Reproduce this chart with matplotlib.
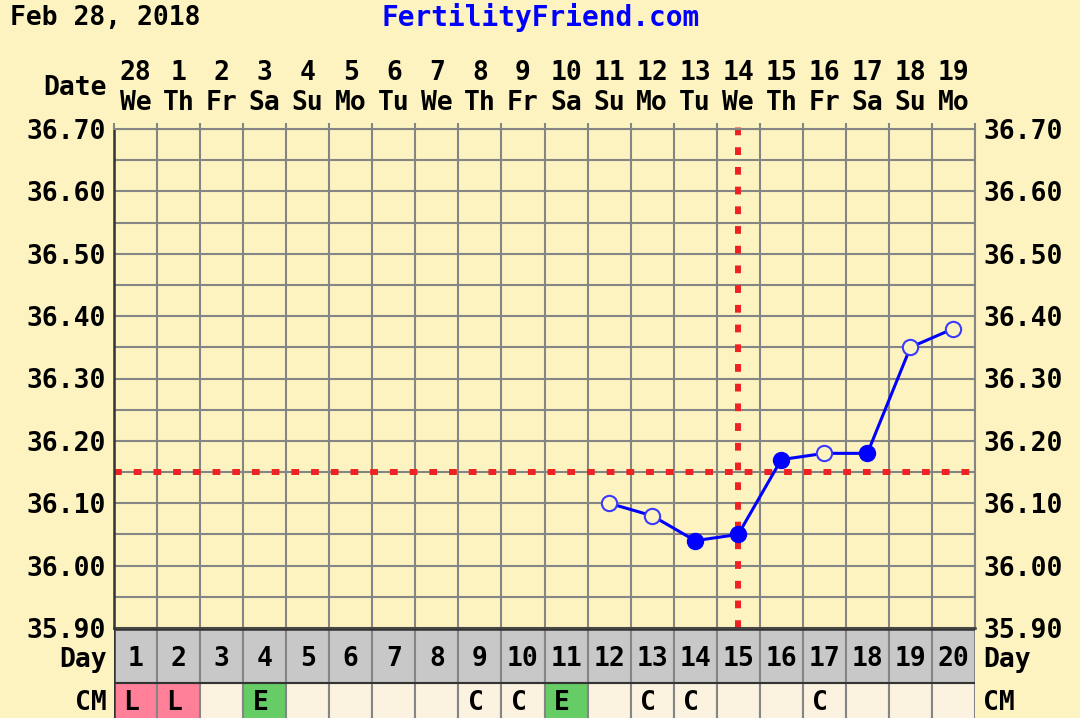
import matplotlib.pyplot as plt
import numpy as np
from matplotlib import transforms
from matplotlib.ticker import FormatStrFormatter

# chart data
cycle_days = list(range(1, 21))
dates = [28, 1, 2, 3, 4, 5, 6, 7, 8, 9, 10, 11, 12, 13, 14, 15, 16, 17, 18, 19]
weekdays = ["We", "Th", "Fr", "Sa", "Su", "Mo", "Tu", "We", "Th", "Fr",
            "Sa", "Su", "Mo", "Tu", "We", "Th", "Fr", "Sa", "Su", "Mo"]
temp_days = [12, 13, 14, 15, 16, 17, 18, 19, 20]
temps = [36.10, 36.08, 36.04, 36.05, 36.17, 36.18, 36.18, 36.35, 36.38]
temp_filled = [False, False, True, True, True, False, True, False, False]
cm_marks = ["L", "L", "", "E", "", "", "", "", "C", "C",
            "E", "", "C", "C", "", "", "C", "", "", ""]
coverline = 36.15
ovulation_day = 15
y_min, y_max = 35.90, 36.70

BG = "#fdf3c1"
GRID = "#858585"
DARK = "#333333"
cm_colors = {"L": "#ff8098", "E": "#66cc66", "C": "#fbf3df", "": "#fbf3df"}

plt.rcParams["font.family"] = "DejaVu Sans Mono"
plt.rcParams["font.weight"] = "bold"
FS = 19

W, H = 1080, 718
fig = plt.figure(figsize=(W / 100, H / 100), dpi=100, facecolor=BG)


def px(x0, y0, x1, y1):
    return [x0 / W, 1 - y1 / H, (x1 - x0) / W, (y1 - y0) / H]


ax = fig.add_axes(px(114, 129, 975, 628))
ax.set_facecolor(BG)
ax.set_xlim(0.5, 20.5)
ax.set_ylim(y_min, y_max)

bounds = np.arange(0.5, 21, 1)
ax.set_xticks(bounds)
ax.set_xticklabels([])
ax.tick_params(axis="x", top=True, bottom=False, length=4, width=1.5,
               color=GRID, direction="out")
ax.set_yticks(np.round(np.arange(y_min, y_max + 0.001, 0.1), 2))
ax.set_yticks(np.round(np.arange(y_min, y_max + 0.001, 0.05), 2), minor=True)
ax.yaxis.set_major_formatter(FormatStrFormatter("%.2f"))
ax.tick_params(axis="y", which="both", length=0, labelleft=True,
               labelright=True, labelsize=FS, pad=6)
ax.grid(which="both", color=GRID, lw=1.5)
ax.set_axisbelow(True)
for side in ("top", "right"):
    ax.spines[side].set_color(GRID)
    ax.spines[side].set_linewidth(1.5)
for side in ("left", "bottom"):
    ax.spines[side].set_color(DARK)
    ax.spines[side].set_linewidth(1.8)

# coverline and ovulation line
ax.axhline(coverline, color="#ee2222", lw=4.3, dashes=(1.3, 2.0))
ax.axvline(ovulation_day, ymin=0, ymax=1.012, color="#ee2222", lw=4.3,
           dashes=(1.3, 2.0), clip_on=False)

# temperatures
ax.plot(temp_days, temps, color="#0000ff", lw=2.2, zorder=4)
fd = [d for d, f in zip(temp_days, temp_filled) if f]
ft = [t for t, f in zip(temps, temp_filled) if f]
od = [d for d, f in zip(temp_days, temp_filled) if not f]
ot = [t for t, f in zip(temps, temp_filled) if not f]
ax.plot(fd, ft, "o", color="#0000ff", ms=11.5, zorder=5)
ax.plot(od, ot, "o", mfc=BG, mec="#3a3aff", mew=1.5, ms=11, zorder=5)

# header
fig.text(10 / W, 1 - 18 / H, "Feb 28, 2018", fontsize=FS, va="center")
fig.text(541 / W, 1 - 18 / H, "FertilityFriend.com", fontsize=FS + 1,
         va="center", ha="center", color="#0000ff")
fig.text(107 / W, 1 - 88 / H, "Date", fontsize=FS, va="center", ha="right")
tr = transforms.blended_transform_factory(ax.transData, fig.transFigure)
for d, dt, wd in zip(cycle_days, dates, weekdays):
    ax.text(d, 1 - 73 / H, str(dt), transform=tr, fontsize=FS,
            ha="center", va="center")
    ax.text(d, 1 - 103 / H, wd, transform=tr, fontsize=FS,
            ha="center", va="center")

# day / CM rows
bx = fig.add_axes(px(114, 628, 975, 718))
bx.set_xlim(0.5, 20.5)
bx.set_ylim(90, 0)
bx.axis("off")
bx.bar(cycle_days, 54, bottom=1, width=1, color="#c8c8c8",
       edgecolor=GRID, lw=1.5)
bx.bar(cycle_days, 40, bottom=55, width=1,
       color=[cm_colors[c] for c in cm_marks], edgecolor=GRID, lw=1.5)
bx.axhline(1, color=DARK, lw=1.8)
bx.axhline(55, color=DARK, lw=1.5)
bx.axvline(0.5, color=DARK, lw=1.8)
for d, c in zip(cycle_days, cm_marks):
    bx.text(d, 31, str(d), fontsize=FS, ha="center", va="center")
    if c:
        bx.text(d - 0.1, 75, c, fontsize=FS, ha="center", va="center")

for x, ha in ((107, "right"), (983, "left")):
    fig.text(x / W, 1 - 660 / H, "Day", fontsize=FS, va="center", ha=ha)
    fig.text(x / W, 1 - 703 / H, "CM", fontsize=FS, va="center", ha=ha)

fig.savefig("out.png", dpi=100, facecolor=BG)
